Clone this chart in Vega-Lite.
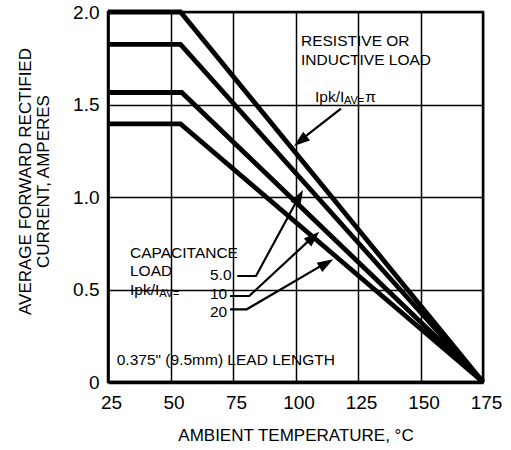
{
  "$schema": "https://vega.github.io/schema/vega-lite/v6.json",
  "width": 375,
  "height": 370,
  "autosize": {"type": "none"},
  "padding": {"left": 108, "top": 12, "right": 28, "bottom": 68},
  "background": "white",
  "config": {
    "view": {"stroke": "#000", "strokeWidth": 2.5},
    "font": "Liberation Sans"
  },
  "encoding": {
    "x": {
      "field": "t", "type": "quantitative",
      "scale": {"domain": [25, 175], "nice": false, "zero": false},
      "axis": {
        "title": "AMBIENT TEMPERATURE, °C",
        "values": [25, 50, 75, 100, 125, 150, 175],
        "format": "d",
        "labelFlush": false, "labelOverlap": false,
        "ticks": false,
        "labelPadding": 11, "labelOffset": 3,
        "labelFont": "Liberation Sans", "labelFontSize": 19, "labelColor": "#000",
        "domainColor": "#000", "domainWidth": 3.5,
        "grid": true, "gridColor": "#000", "gridWidth": 1.5, "gridOpacity": 1,
        "titleFont": "Liberation Sans", "titleFontSize": 17, "titleFontWeight": "normal", "titleColor": "#000",
        "titleBaseline": "alphabetic", "titleY": 58.3
      }
    },
    "y": {
      "field": "i", "type": "quantitative",
      "scale": {"domain": [0, 2], "nice": false, "zero": true},
      "axis": {
        "title": ["AVERAGE FORWARD RECTIFIED", "CURRENT, AMPERES"],
        "values": [0, 0.5, 1, 1.5, 2],
        "labelExpr": "datum.value == 0 ? '0' : format(datum.value, '.1f')",
        "labelFlush": false, "labelOverlap": false,
        "ticks": false,
        "labelPadding": 9,
        "labelFont": "Liberation Sans", "labelFontSize": 19, "labelColor": "#000",
        "domainColor": "#000", "domainWidth": 2.5,
        "grid": true, "gridColor": "#000", "gridWidth": 1.5, "gridOpacity": 1,
        "titleFont": "Liberation Sans", "titleFontSize": 17, "titleFontWeight": "normal", "titleColor": "#000",
        "titleBaseline": "middle", "titleLineHeight": 18.5,
        "titleX": -82.75, "titleY": 169
      }
    }
  },
  "layer": [
    {
      "data": {"values": [
        {"load": "pi", "t": 25, "i": 2.0}, {"load": "pi", "t": 54, "i": 2.0}, {"load": "pi", "t": 175, "i": 0},
        {"load": "5.0", "t": 25, "i": 1.825}, {"load": "5.0", "t": 54, "i": 1.825}, {"load": "5.0", "t": 175, "i": 0},
        {"load": "10", "t": 25, "i": 1.565}, {"load": "10", "t": 54.5, "i": 1.565}, {"load": "10", "t": 175, "i": 0},
        {"load": "20", "t": 25, "i": 1.395}, {"load": "20", "t": 54, "i": 1.395}, {"load": "20", "t": 175, "i": 0}
      ]},
      "mark": {"type": "line", "color": "#000", "strokeWidth": 4.8, "strokeCap": "butt", "strokeJoin": "miter"},
      "encoding": {"detail": {"field": "load"}}
    },
    {
      "data": {"values": [
        {"arrow": "pi", "seq": 1, "t": 118.2, "i": 1.478},
        {"arrow": "pi", "seq": 2, "t": 101.9, "i": 1.306},
        {"arrow": "5.0", "seq": 1, "t": 76.7, "i": 0.573},
        {"arrow": "5.0", "seq": 2, "t": 84.2, "i": 0.573},
        {"arrow": "5.0", "seq": 3, "t": 101.5, "i": 1.004},
        {"arrow": "10", "seq": 1, "t": 73.8, "i": 0.465},
        {"arrow": "10", "seq": 2, "t": 81.5, "i": 0.465},
        {"arrow": "10", "seq": 3, "t": 107.2, "i": 0.787},
        {"arrow": "20", "seq": 1, "t": 73.8, "i": 0.393},
        {"arrow": "20", "seq": 2, "t": 80.5, "i": 0.393},
        {"arrow": "20", "seq": 3, "t": 112.4, "i": 0.645}
      ]},
      "mark": {"type": "line", "color": "#000", "strokeWidth": 2.2, "strokeCap": "butt", "strokeJoin": "miter"},
      "encoding": {
        "detail": {"field": "arrow"},
        "order": {"field": "seq", "type": "quantitative"}
      }
    },
    {
      "data": {"values": [
        {"arrow": "pi", "t": 99.4, "i": 1.2757, "i2": 1.2757},
        {"arrow": "pi", "t": 103.08, "i": 1.3524, "i2": 1.2930},
        {"arrow": "pi", "t": 105.8, "i": 1.3059, "i2": 1.3059},
        {"arrow": "5.0", "t": 98.0, "i": 0.9762, "i2": 0.9762},
        {"arrow": "5.0", "t": 101.88, "i": 0.9476, "i2": 1.0241},
        {"arrow": "5.0", "t": 103.0, "i": 1.0378, "i2": 1.0378},
        {"arrow": "10", "t": 103.32, "i": 0.7751, "i2": 0.7751},
        {"arrow": "10", "t": 106.32, "i": 0.7319, "i2": 0.7932},
        {"arrow": "10", "t": 109.52, "i": 0.8124, "i2": 0.8124},
        {"arrow": "20", "t": 108.48, "i": 0.6449, "i2": 0.6449},
        {"arrow": "20", "t": 110.72, "i": 0.5941, "i2": 0.6511},
        {"arrow": "20", "t": 115.12, "i": 0.6632, "i2": 0.6632}
      ]},
      "mark": {"type": "area", "color": "#000", "opacity": 1, "line": false},
      "encoding": {
        "y2": {"field": "i2"},
        "detail": {"field": "arrow"}
      }
    },
    {
      "data": {"values": [
        {"label": "RESISTIVE OR\nINDUCTIVE LOAD", "t": 102.2, "i": 1.816},
        {"label": "Ipk/I", "t": 107.8, "i": 1.514},
        {"label": "π", "t": 127.9, "i": 1.514},
        {"label": "CAPACITANCE\nLOAD\nIpk/I", "t": 33.8, "i": 0.672},
        {"label": "5.0", "t": 65.8, "i": 0.551},
        {"label": "10", "t": 65.8, "i": 0.447},
        {"label": "20", "t": 65.8, "i": 0.351},
        {"label": "0.375\" (9.5mm) LEAD LENGTH", "t": 28.5, "i": 0.09}
      ]},
      "mark": {"type": "text", "font": "Liberation Sans", "fontSize": 15.5, "color": "#000", "align": "left", "baseline": "alphabetic", "lineBreak": "\n", "lineHeight": 18.5},
      "encoding": {"text": {"field": "label"}}
    },
    {
      "data": {"values": [
        {"label": "AV=", "t": 119.4, "i": 1.501},
        {"label": "AV=", "t": 45.5, "i": 0.458}
      ]},
      "mark": {"type": "text", "font": "Liberation Sans", "fontSize": 11, "color": "#000", "align": "left", "baseline": "alphabetic"},
      "encoding": {"text": {"field": "label"}}
    }
  ]
}
